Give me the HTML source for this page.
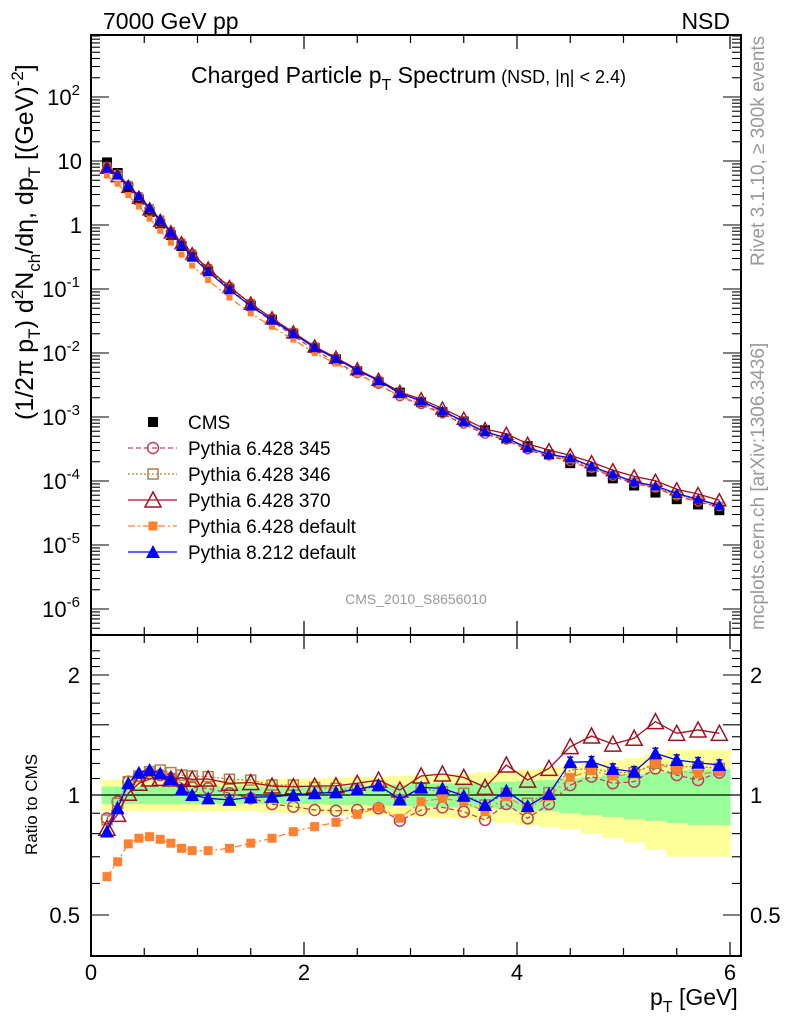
<!DOCTYPE html>
<html><head><meta charset="utf-8"><style>
body{margin:0;background:#fff;}
svg{display:block;font-family:"Liberation Sans",sans-serif;}
</style></head><body>
<svg id="chart" width="786" height="1024" viewBox="0 0 786 1024" xmlns="http://www.w3.org/2000/svg"></svg>
<script>
const pt=[0.15,0.25,0.35,0.45,0.55,0.65,0.75,0.85,0.95,1.1,1.3,1.5,1.7,1.9,2.1,2.3,2.5,2.7,2.9,3.1,3.3,3.5,3.7,3.9,4.1,4.3,4.5,4.7,4.9,5.1,5.3,5.5,5.7,5.9];
const binLo=[0.1,0.2,0.3,0.4,0.5,0.6,0.7,0.8,0.9,1.0,1.2,1.4,1.6,1.8,2.0,2.2,2.4,2.6,2.8,3.0,3.2,3.4,3.6,3.8,4.0,4.2,4.4,4.6,4.8,5.0,5.2,5.4,5.6,5.8];
const binHi=[0.2,0.3,0.4,0.5,0.6,0.7,0.8,0.9,1.0,1.2,1.4,1.6,1.8,2.0,2.2,2.4,2.6,2.8,3.0,3.2,3.4,3.6,3.8,4.0,4.2,4.4,4.6,4.8,5.0,5.2,5.4,5.6,5.8,6.0];
const cms=[9.5,6.5,3.9,2.5,1.6,1.05,0.70,0.47,0.32,0.19,0.10,0.055,0.033,0.020,0.012,0.0080,0.0052,0.0035,0.0024,0.0017,0.0012,0.00085,0.00062,0.00046,0.00035,0.00026,0.00019,0.000140,0.000110,0.000085,0.000066,0.000052,0.000043,0.000035];
const r345=[0.874,0.962,1.08,1.116,1.133,1.122,1.101,1.07,1.045,1.039,1.01,0.981,0.949,0.935,0.917,0.913,0.917,0.926,0.862,0.917,0.931,0.908,0.866,0.949,0.874,0.949,1.059,1.112,1.07,1.08,1.166,1.122,1.09,1.138];
const r346=[0.866,0.953,1.08,1.116,1.144,1.155,1.138,1.122,1.116,1.112,1.095,1.09,1.059,1.059,1.045,1.039,1.029,1.053,0.972,1.039,1.019,1.01,0.944,1.01,0.953,1.014,1.155,1.166,1.138,1.138,1.201,1.178,1.178,1.166];
const r370=[0.825,0.894,1.01,1.07,1.097,1.101,1.097,1.105,1.095,1.097,1.07,1.074,1.053,1.049,1.053,1.055,1.07,1.09,1.029,1.116,1.129,1.107,1.045,1.189,1.09,1.166,1.322,1.406,1.342,1.388,1.528,1.428,1.456,1.428];
const r6def=[0.624,0.68,0.754,0.779,0.786,0.774,0.757,0.735,0.725,0.725,0.735,0.757,0.779,0.809,0.833,0.854,0.894,0.931,0.874,0.962,0.981,0.962,0.908,0.99,0.926,0.99,1.107,1.151,1.116,1.129,1.201,1.155,1.129,1.144];
const r8def=[0.81,0.926,1.07,1.137,1.155,1.133,1.097,1.033,1.0,0.981,0.972,0.987,0.99,1.0,1.01,1.015,1.033,1.059,0.975,1.045,1.039,0.996,0.944,1.025,0.938,1.006,1.208,1.212,1.162,1.144,1.272,1.224,1.205,1.189];
const statBand=[0.05,0.05,0.05,0.05,0.05,0.05,0.05,0.05,0.05,0.05,0.05,0.05,0.05,0.05,0.05,0.055,0.055,0.06,0.06,0.065,0.07,0.07,0.075,0.08,0.085,0.09,0.10,0.11,0.12,0.13,0.14,0.15,0.16,0.16];
const totBand=[0.09,0.09,0.09,0.09,0.09,0.09,0.09,0.09,0.09,0.09,0.09,0.09,0.095,0.10,0.10,0.105,0.11,0.11,0.115,0.12,0.125,0.13,0.14,0.15,0.16,0.17,0.18,0.20,0.22,0.24,0.27,0.30,0.30,0.30];
const yTopTicks=["10^-6","10^-5","10^-4","10^-3","10^-2","10^-1","1","10","10^2"];

const NS="http://www.w3.org/2000/svg";
const svg=document.getElementById('chart');
const L=91,R=741,T1=35,B1=635,B2=956;
const X=v=>L+v*106.5;
const Y1=v=>225-64*Math.log10(v);
const Y2=v=>795-120*Math.log2(v);
function el(tag,attrs,parent){const e=document.createElementNS(NS,tag);for(const k in attrs)e.setAttribute(k,attrs[k]);(parent||svg).appendChild(e);return e;}
function txt(s,x,y,size,attrs,parent){const e=el('text',Object.assign({x:x,y:y,'font-size':size},attrs||{}),parent);e.textContent=s;return e;}

const bands=el('g',{});


pt.forEach((p,i)=>{
  const a=el('rect',{x:X(binLo[i]),y:Y2(1+totBand[i]),width:X(binHi[i])-X(binLo[i])+0.5,height:Y2(1-totBand[i])-Y2(1+totBand[i]),fill:'#ffff99'},bands);
  
  
});
pt.forEach((p,i)=>{
  const a=el('rect',{x:X(binLo[i]),y:Y2(1+statBand[i]),width:X(binHi[i])-X(binLo[i])+0.5,height:Y2(1-statBand[i])-Y2(1+statBand[i]),fill:'#99ff99'},bands);
  
  
});
el('line',{x1:L,x2:R,y1:Y2(1),y2:Y2(1),stroke:'#000','stroke-width':1.2});

function marker(type,x,y,color,s,g){
  if(type==='sqf')return el('rect',{x:x-s,y:y-s,width:2*s,height:2*s,fill:color},g);
  if(type==='sqo')return el('rect',{x:x-s+1,y:y-s+1,width:2*s-2,height:2*s-2,fill:'none',stroke:color,'stroke-width':1.5},g);
  if(type==='circ')return el('circle',{cx:x,cy:y,r:s-0.5,fill:'none',stroke:color,'stroke-width':1.5},g);
  if(type==='trio')return el('polygon',{points:`${x},${y-s-1} ${x-s-1},${y+s} ${x+s+1},${y+s}`,fill:'none',stroke:color,'stroke-width':1.5},g);
  if(type==='trif')return el('polygon',{points:`${x},${y-s-1} ${x-s-1},${y+s} ${x+s+1},${y+s}`,fill:color},g);
}
const series=[
 {name:'pythia-6428-345',label:'Pythia 6.428 345',r:r345,c:'#c0405a',dash:'5,3',m:'circ',s:6},
 {name:'pythia-6428-346',label:'Pythia 6.428 346',r:r346,c:'#b08040',dash:'2,2',m:'sqo',s:6},
 {name:'pythia-6428-370',label:'Pythia 6.428 370',r:r370,c:'#a01020',dash:'',m:'trio',s:7},
 {name:'pythia-6428-default',label:'Pythia 6.428 default',r:r6def,c:'#ff8030',dash:'7,3,2,3',m:'sqf',s:4.5},
 {name:'pythia-8212-default',label:'Pythia 8.212 default',r:r8def,c:'#0000ff',dash:'',m:'trif',s:6}
];
const gc=el('g',{});


pt.forEach((p,i)=>{const m=marker('sqf',X(p),Y1(cms[i]),'#000',5,gc);
  
  });
series.forEach(S=>{
  const gt=el('g',{});
  
  
  el('polyline',{points:pt.map((p,i)=>X(p)+','+Y1(cms[i]*S.r[i])).join(' '),fill:'none',stroke:S.c,'stroke-width':1.3,'stroke-dasharray':S.dash},gt);
  pt.forEach((p,i)=>{const m=marker(S.m,X(p),Y1(cms[i]*S.r[i]),S.c,S.s-1.5,gt);
    
    });
  const gr=el('g',{});
  
  
  el('polyline',{points:pt.map((p,i)=>X(p)+','+Y2(S.r[i])).join(' '),fill:'none',stroke:S.c,'stroke-width':1.3,'stroke-dasharray':S.dash},gr);
  pt.forEach((p,i)=>{const m=marker(S.m,X(p),Y2(S.r[i]),S.c,S.s,gr);
    
    });
});

el('rect',{x:L,y:T1,width:R-L,height:B1-T1,fill:'none',stroke:'#000','stroke-width':2});
el('rect',{x:L,y:B1,width:R-L,height:B2-B1,fill:'none',stroke:'#000','stroke-width':2});
for(let v=0;v<=6.01;v+=0.5){
  const len=(Math.abs(v%2)<0.01)?14:8;
  [[B1,-1],[T1,1],[B2,-1],[B1,1]].forEach(([y,d])=>el('line',{x1:X(v),x2:X(v),y1:y,y2:y+d*len,stroke:'#000','stroke-width':1.2}));
}
['0','2','4','6'].forEach((s,i)=>{const t=txt(s,X(i*2),980,22,{'text-anchor':'middle'});
  });
for(let e=-7;e<=2;e++){for(let k=1;k<10;k++){const v=k*Math.pow(10,e);const y=Y1(v);if(y<T1||y>B1)continue;
  const len=k===1?18:9;
  el('line',{x1:L,x2:L+len,y1:y,y2:y,stroke:'#000','stroke-width':1.1});
  el('line',{x1:R,x2:R-len,y1:y,y2:y,stroke:'#000','stroke-width':1.1});}}
yTopTicks.forEach((s,i)=>{const e=i-6;const y=Y1(Math.pow(10,e))+8;
  const t=txt('',80,y,22,{'text-anchor':'end'});
  
  if(s.indexOf('^')>0){const [b,ex]=s.split('^');const t1=el('tspan',{},t);t1.textContent=b;const t2=el('tspan',{dy:-10,'font-size':15},t);t2.textContent=ex;}
  else{t.textContent=s;t.setAttribute('x',82);}
});
for(let k=5;k<=23;k++){const v=k/10;const y=Y2(v);if(y<B1||y>B2)continue;
  const len=(k%5===0)?18:9;
  el('line',{x1:L,x2:L+len,y1:y,y2:y,stroke:'#000','stroke-width':1.1});
  el('line',{x1:R,x2:R-len,y1:y,y2:y,stroke:'#000','stroke-width':1.1});}
[['2',2],['1',1],['0.5',0.5]].forEach(([s,v])=>{
  const a=txt(s,80,Y2(v)+8,22,{'text-anchor':'end'});
  const b=txt(s,750,Y2(v)+8,22,{});
});
pt.forEach((p,i)=>{if(p>4.4){el('line',{x1:X(p),x2:X(p),y1:Y2(r8def[i]*1.03),y2:Y2(r8def[i]/1.03),stroke:'#0000ff','stroke-width':1.5});
  el('line',{x1:X(p)-3,x2:X(p)+3,y1:Y2(r8def[i]*1.03),y2:Y2(r8def[i]*1.03),stroke:'#0000ff','stroke-width':1.5});}});

const lg=el('g',{});


const le0=el('g',{},lg);


marker('sqf',153,422,'#000',5,le0);txt('CMS',188,429,19,{},le0);
series.forEach((S,i)=>{const y=448+i*26;const g=el('g',{},lg);
  
  
  el('line',{x1:128,x2:177,y1:y,y2:y,stroke:S.c,'stroke-width':1.3,'stroke-dasharray':S.dash},g);
  marker(S.m,153,y,'#fff',S.s,g);
  marker(S.m,153,y,S.c,S.s,g);
  txt(S.label,188,y+7,19,{},g);});

const t1=txt('7000 GeV pp',103,29,23,{});
const t2=txt('NSD',730,29,23,{'text-anchor':'end'});
</script>
<svg style="position:absolute;left:0;top:0" width="786" height="1024">
<text x="191" y="83" font-size="23" font-family="Liberation Sans, sans-serif">Charged Particle p<tspan dy="7" font-size="16">T</tspan><tspan dy="-7"> Spectrum</tspan><tspan font-size="18"> (NSD, |η| &lt; 2.4)</tspan></text>
<text transform="translate(33,420) rotate(-90)" font-size="25" font-family="Liberation Sans, DejaVu Sans, sans-serif">(1/2π p<tspan dy="7" font-size="17">T</tspan><tspan dy="-7">) d</tspan><tspan dy="-10" font-size="17">2</tspan><tspan dy="10">N</tspan><tspan dy="7" font-size="17">ch</tspan><tspan dy="-7">/dη, dp</tspan><tspan dy="7" font-size="17">T</tspan><tspan dy="-7"> [(GeV)</tspan><tspan dy="-10" font-size="17">-2</tspan><tspan dy="10">]</tspan></text>
<text transform="translate(37,855) rotate(-90)" font-size="17" font-family="Liberation Sans, sans-serif">Ratio to CMS</text>
<text x="650" y="1005" font-size="23" font-family="Liberation Sans, sans-serif">p<tspan dy="7" font-size="16">T</tspan><tspan dy="-7"> [GeV]</tspan></text>
<text x="416" y="604" font-size="14" fill="#999" text-anchor="middle" font-family="Liberation Sans, sans-serif">CMS_2010_S8656010</text>
<text transform="translate(764,266) rotate(-90)" font-size="19" fill="#999" font-family="Liberation Sans, DejaVu Sans, sans-serif">Rivet 3.1.10, ≥ 300k events</text>
<text transform="translate(764,630) rotate(-90)" font-size="19" fill="#999" font-family="Liberation Sans, sans-serif">mcplots.cern.ch [arXiv:1306.3436]</text>
</svg>
</body></html>
